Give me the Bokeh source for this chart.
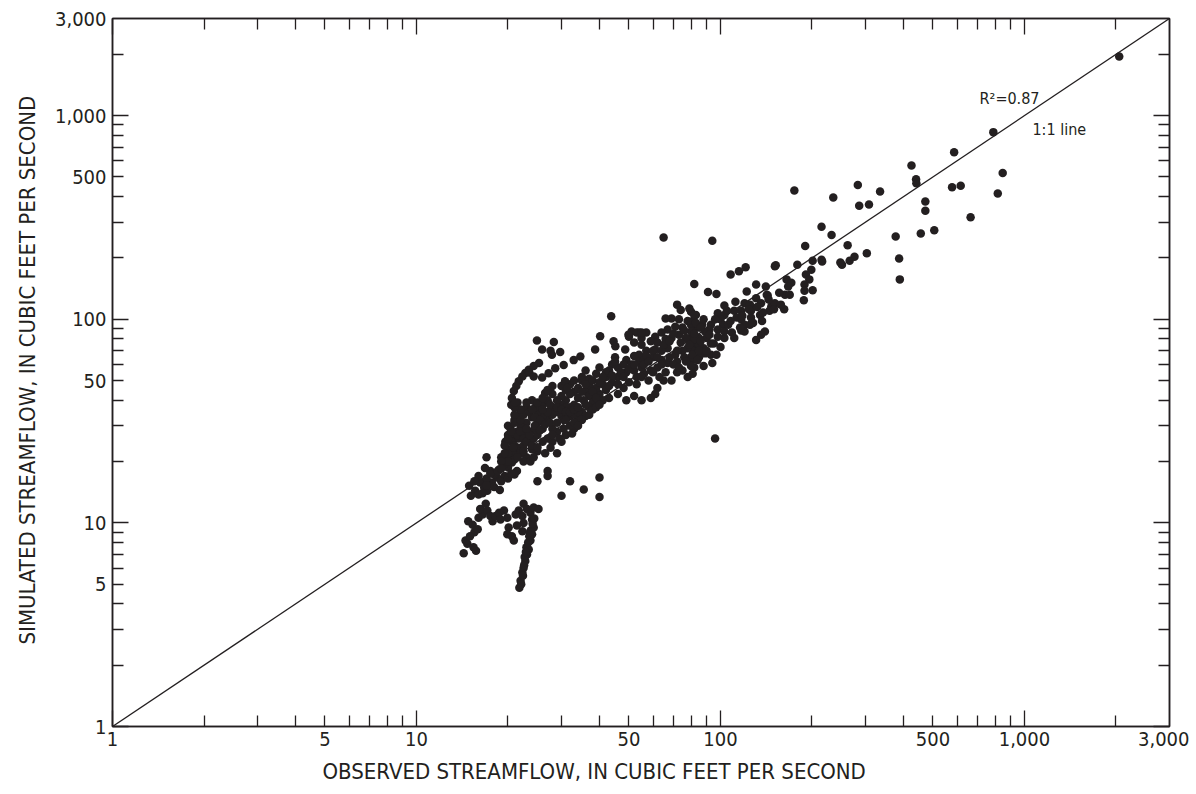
from bokeh.plotting import figure
from bokeh.models import (LogAxis, FixedTicker, NumeralTickFormatter, Title, Label,
                          Range1d, ColumnDataSource)
from bokeh.embed import file_html
from bokeh.resources import INLINE

INK = "#231f20"
FONT = "'DejaVu Sans Condensed', sans-serif"

# ---------------- data (cubic feet per second) ----------------
obs_upper = [2050, 790, 587, 848, 817, 665, 617, 578, 425, 440,
             441, 472, 472, 456, 505, 377, 387, 389, 335, 308,
             286, 283, 235, 175, 215, 232, 262, 303, 276, 266,
             251, 248, 215, 216, 190, 201, 179, 199, 191, 196,
             189, 201, 189, 188, 165, 171, 167, 163, 169, 162,
             151, 152, 131, 141, 143, 122, 120, 117, 108, 115,
             121, 94, 65, 96, 82, 91, 97, 131, 136, 135,
             137, 140, 136, 131, 142, 147, 145, 151, 111, 113,
             117, 120, 117, 120, 125, 126, 126, 125, 103, 98,
             103, 100, 102, 98, 93, 92, 89, 87, 83, 81,
             85, 90, 93, 88, 83, 80, 93, 89, 85, 80,
             82, 88, 94, 97, 100, 103, 109, 103, 111, 116,
             106, 81, 80, 83, 80, 85, 80, 85, 81, 80]
sim_upper = [1950, 830, 661, 523, 415, 317, 452, 445, 569, 487,
             466, 379, 341, 264, 274, 255, 199, 157, 424, 366,
             361, 457, 396, 429, 285, 259, 231, 211, 203, 194,
             185, 190, 196, 192, 229, 194, 185, 175, 166, 157,
             148, 139, 138, 124, 157, 151, 145, 132, 132, 112,
             182, 184, 148, 145, 131, 137, 120, 110, 166, 172,
             180, 243, 252, 26, 149, 136, 133, 127, 120, 105,
             98, 87, 84, 79, 132, 116, 110, 120, 110, 102,
             100, 94, 88, 87, 94, 102, 110, 118, 117, 107,
             105, 100, 94, 89, 94, 89, 87, 94, 91, 98,
             81, 81, 76, 72, 75, 76, 67, 68, 65, 62,
             58, 59, 61, 67, 73, 81, 86, 87, 81, 91,
             94, 54, 109, 105, 94, 91, 81, 75, 70, 65]

obs_band = [72, 74, 79, 82, 69, 66, 73, 78, 83, 86,
            80, 75, 71, 67, 64, 61, 57, 55, 54, 51,
            50, 52, 55, 59, 62, 66, 69, 73, 77, 82,
            78, 75, 71, 67, 64, 61, 57, 54, 52, 49,
            51, 54, 56, 60, 64, 67, 72, 76, 81, 85,
            80, 75, 78, 72, 69, 65, 62, 61, 59, 55,
            49, 52, 48, 50, 53, 56, 59, 62, 55, 52,
            49, 46, 46, 48, 45, 44, 43, 42, 44, 46,
            46, 43, 41, 40, 39, 41, 42, 40, 39, 37,
            37, 36, 37, 38, 37, 35.5, 34, 33, 35, 36,
            35, 34, 33, 32, 32, 32, 31, 30, 30, 31,
            32, 33, 35, 36, 35, 33, 29, 28, 29, 30,
            30.5, 31, 30, 29, 28, 27, 26, 25, 24.6, 26,
            27, 28, 26.5, 24, 23, 22, 21.4, 21, 20.4, 20,
            19.6, 20, 20, 21, 21.7, 22.5, 23.4, 24.3, 25, 26,
            25, 24, 23, 22, 21.4, 21, 21.7, 22.8, 23.7, 24.6,
            26, 27, 28, 29, 27.6, 26.5, 25, 24, 23, 22.5,
            23.7, 24.3, 22, 21, 20.6, 21.4, 21, 20, 19.4, 19,
            20, 18.7, 18.4, 18, 17.5, 17.7, 16.9, 16.2, 15.6, 14.9,
            15.1, 16, 16.7, 17.1, 17]
sim_band = [118, 111, 113, 105, 101, 101, 100, 98, 96, 91,
            87, 91, 92, 89, 86, 82, 86, 81, 86, 87,
            82, 77, 75, 78, 77, 80, 81, 84, 81, 80,
            72, 70, 67, 72, 70, 71, 70, 67, 66, 63,
            60, 62, 63, 65, 63, 61, 62, 65, 67, 70,
            59, 56, 52, 55, 50, 50, 46, 43, 41, 40,
            40, 42, 46, 49, 52, 54, 56, 58, 58, 56,
            55, 52, 58, 60, 65, 60, 56, 52, 49, 48,
            43, 41, 40, 43, 46, 48, 55, 58, 54, 51,
            47, 44, 42, 39, 37, 40, 41, 38, 35, 33.5,
            32, 33, 29, 30, 33.5, 37, 40, 38, 42, 45,
            48, 50, 52, 56, 50, 44, 40, 37, 35, 33.5,
            32, 27, 25, 28, 29, 32, 33.5, 35, 37, 38,
            40, 43, 43.5, 40, 37, 35, 33.5, 32, 29, 27,
            25, 23, 21, 22, 23.4, 24, 25.3, 26, 27, 29,
            31, 33, 31, 30, 28, 26, 26, 27, 28, 29,
            25, 26, 25, 22, 23.4, 22, 22.5, 23, 21, 20,
            20, 21, 22, 20.5, 19.8, 18, 17.3, 18.7, 19.4, 21,
            20, 18.3, 16.7, 17.3, 18, 15.8, 16, 15.8, 14.4, 15.2,
            13.6, 13.8, 14.9, 14.4, 21]

obs_extra = [45, 47, 48, 50, 52, 53, 55, 56, 57, 58,
             58, 60, 60, 62, 63, 64, 65, 66, 68, 68,
             70, 70, 72, 73, 74, 76, 77, 79, 82, 84,
             86, 88, 90, 92, 95, 96, 98, 105, 108, 112,
             118, 124, 128, 132, 138, 144, 150, 156, 158,
             27, 28, 30, 32, 34, 35, 36, 38, 38, 39,
             40, 41, 42, 43, 44, 31, 33, 34, 36, 37,
             38, 39, 40]
sim_extra = [62, 55, 52, 57, 60, 48, 52, 60, 66, 50,
             62, 55, 70, 65, 52, 60, 75, 55, 65, 78,
             60, 85, 70, 58, 77, 88, 62, 75, 85, 63,
             78, 100, 70, 84, 76, 100, 82, 110, 98, 122,
             104, 112, 96, 115, 108, 125, 112, 135, 118,
             45, 47, 47, 43, 46, 44, 48, 50, 44, 41,
             49, 52, 45, 47, 53, 37, 34, 35, 38, 34,
             36, 37, 38]

obs_cluster = [19.5, 20.5, 21, 20, 21.5, 22, 22.5, 23, 23.5, 20.5,
               20, 21, 22, 21, 22.5, 23.5, 24, 22, 21, 20.5,
               21.5, 23, 24.5, 25.5, 24.5, 23, 25.5, 26.5, 27.5, 28,
               27, 26, 25, 26, 27.5, 29, 30, 31, 32, 33,
               34, 31, 33, 34, 29, 28, 29.5, 30.5, 32.5, 24,
               25, 22.5, 20, 19.5, 21.5, 19, 20.8, 16, 17, 17.5,
               18.5, 19, 19.5, 18, 17, 16.5, 19, 20, 18.8, 20.5,
               15.5, 16.8]
sim_cluster = [24, 25, 24, 26, 27, 28, 26, 25, 27, 28,
               30, 31, 32, 34, 34, 35, 36, 36, 37, 38,
               39, 39, 33, 32, 30, 29, 28.5, 30.5, 31, 34,
               35, 36, 39, 41, 38, 37, 36, 35, 35, 36,
               37, 32, 31, 30, 31, 27, 26, 29, 27.5, 24,
               23.5, 22.5, 22, 22, 21, 20, 23.5, 17, 16.5, 17.5,
               18, 18.5, 17, 15, 15.3, 14, 16, 16.5, 14.5, 17.5,
               16, 18.6]

obs_hook = [24.9, 28.3, 25.9, 27.6, 27.9, 29.7, 25.3, 24.3, 23.4, 22.8,
            22.3, 21.7, 21.3, 20.9, 20.6, 21.1, 23.5, 24.3, 25.9, 27.2,
            28.6, 30.5, 32.9, 34.6, 30.8, 31.3, 38.7, 40.2, 43.7, 44.5,
            45.1, 48.6, 49.8, 53, 55]
sim_hook = [78.6, 77.4, 71, 70, 67, 69, 61, 59, 56.5, 54.4,
            52.4, 49.6, 47, 44.4, 41, 38.9, 54.8, 52.4, 51.8, 54.3,
            57.4, 59.6, 63, 65.6, 49.6, 46, 71, 82.6, 103.5, 78,
            73.8, 71, 84, 86, 86]

obs_under = [25, 27, 27, 30, 32, 35.5, 40, 40]
sim_under = [16, 17, 18, 13.6, 16, 14.6, 16.7, 13.4]

obs_low = [14.3, 15.7, 14.7, 15.5, 15.3, 15.9, 16, 16.5, 16.2, 16.9,
           17.1, 17.5, 17.8, 18.2, 18.7, 18.9, 19.4, 19.9, 20.1, 19.9,
           20.6, 20.9, 21.2, 21.7, 22.3, 22.5, 23.1, 23.7, 24.3, 25.2,
           24, 24.3, 24, 23.7, 23.4, 23.1, 22.8, 22.5, 22.3, 22,
           21.8, 22.5, 22.3, 21.4, 22.7, 23, 23.3, 23.5, 23.8, 24.1,
           24.4, 22.4, 22.1, 22.6, 22.9, 23.6, 14.5, 15, 15.4, 14.8]
sim_low = [7.1, 7.3, 7.9, 9, 9.8, 9.3, 10.6, 11, 11.7, 12.4,
           11.5, 10.8, 10.2, 10.8, 11.2, 10.4, 11.5, 10.6, 9.5, 8.8,
           8.6, 8.2, 11, 11.5, 10.8, 12.4, 11.7, 11.2, 11.9, 11.7,
           10.4, 9.5, 8.8, 8.2, 7.4, 7, 6.5, 6.0, 5.7, 5.2,
           4.8, 10, 9.1, 9.7, 6.8, 7.6, 8, 8.6, 9.2, 9.9,
           10.5, 5.5, 5.0, 6.2, 7.2, 9, 8.2, 8.6, 7.6, 10.2]

one_to_one = [1, 3000]
label_ticks = [1, 5, 10, 50, 100, 500, 1000, 3000]
decade_ticks = [1, 10, 100, 1000]
minor_ticks = [2, 3, 4, 5, 6, 7, 8, 9,
               20, 30, 40, 50, 60, 70, 80, 90,
               200, 300, 400, 500, 600, 700, 800, 900, 2000]
x_title = "OBSERVED STREAMFLOW, IN CUBIC FEET PER SECOND"
y_title = "SIMULATED STREAMFLOW, IN CUBIC FEET PER SECOND"
r2_text = "R²=0.87"
line_text = "1:1 line"

# ---------------- figure ----------------
p = figure(width=1189, height=794, x_axis_type="log", y_axis_type="log",
           x_range=Range1d(1, 3000), y_range=Range1d(1, 3000),
           x_axis_location=None, y_axis_location=None,
           output_backend="svg", toolbar_location=None,
           min_border_left=109, min_border_right=20,
           min_border_top=18, min_border_bottom=68)
p.grid.visible = False
p.outline_line_color = INK
p.outline_line_width = 1.5


def tick_axis():
    return LogAxis(ticker=FixedTicker(ticks=decade_ticks, minor_ticks=minor_ticks),
                   major_tick_in=16, major_tick_out=0,
                   minor_tick_in=11, minor_tick_out=0,
                   major_tick_line_color=INK, minor_tick_line_color=INK,
                   major_tick_line_width=1.3, minor_tick_line_width=1.3,
                   axis_line_color=INK, axis_line_width=1.5,
                   major_label_text_font_size="1px",
                   major_label_text_color=None,
                   major_label_standoff=0)


def label_axis(standoff):
    return LogAxis(ticker=FixedTicker(ticks=label_ticks, minor_ticks=[]),
                   formatter=NumeralTickFormatter(format="0,0"),
                   major_tick_in=0, major_tick_out=0,
                   minor_tick_in=0, minor_tick_out=0,
                   axis_line_color=None,
                   major_label_standoff=standoff,
                   major_label_text_font=FONT,
                   major_label_text_font_size="20px",
                   major_label_text_color=INK)


p.add_layout(tick_axis(), "left")
p.add_layout(label_axis(6), "left")
p.add_layout(tick_axis(), "below")
p.add_layout(label_axis(5), "below")
p.add_layout(tick_axis(), "right")
p.add_layout(tick_axis(), "above")

p.add_layout(Title(text=x_title, align="left", offset=210,
                   text_font=FONT, text_font_size="22px",
                   text_font_style="normal", text_color=INK, standoff=17), "below")
p.add_layout(Title(text=y_title, align="left", offset=82,
                   text_font=FONT, text_font_size="22px",
                   text_font_style="normal", text_color=INK, standoff=25), "left")

p.line(one_to_one, one_to_one, line_color=INK, line_width=1.3)

all_obs = obs_upper + obs_band + obs_extra + obs_cluster + obs_hook + obs_under + obs_low
all_sim = sim_upper + sim_band + sim_extra + sim_cluster + sim_hook + sim_under + sim_low
src = ColumnDataSource(dict(obs=all_obs, sim=all_sim))
p.scatter("obs", "sim", source=src, size=8.5, fill_color=INK, line_color=None)

p.add_layout(Label(x=712, y=1211, text=r2_text, text_font=FONT,
                   text_font_size="16px", text_color=INK,
                   text_baseline="middle", text_align="left"))
p.add_layout(Label(x=1062, y=854, text=line_text, text_font=FONT,
                   text_font_size="16px", text_color=INK,
                   text_baseline="middle", text_align="left"))

open("out.html", "w").write(file_html(p, INLINE))
